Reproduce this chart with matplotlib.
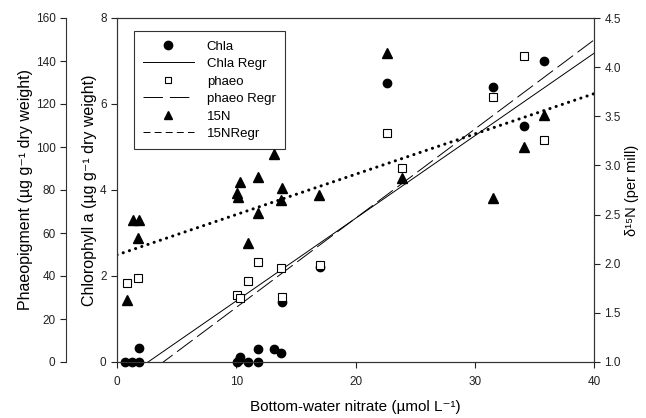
import matplotlib
matplotlib.use("Agg")
import matplotlib.pyplot as plt
from matplotlib.lines import Line2D
import numpy as np

plt.rcParams['font.family'] = ['Liberation Sans', 'DejaVu Sans']
plt.rcParams['mathtext.default'] = 'regular'
plt.rcParams['lines.scale_dashes'] = False

# === DATA ===
chla_x = [0.67, 1.26, 1.84, 1.84, 10.08, 10.2, 10.3, 11.0, 11.8, 11.8, 13.2, 13.75,
          13.86, 17.0, 22.66, 31.5, 34.1, 35.8]
chla_y = [0.0, 0.0, 0.0, 0.33, 0.0, 0.05, 0.12, 0.0, 0.0, 0.3, 0.3, 0.2,
          1.4, 2.22, 6.5, 6.39, 5.5, 7.0]

phaeo_x = [0.81, 1.79, 10.08, 10.3, 11.0, 11.8, 13.75, 13.86, 17.0,
           22.66, 23.9, 31.5, 34.1, 35.8]
phaeo_y = [36.9, 38.9, 31.2, 29.6, 37.7, 46.7, 43.6, 30.4, 45.1,
           106.4, 90.1, 123.1, 142.5, 103.3]

n15_x = [0.81, 1.3, 1.73, 1.87, 10.08, 10.17, 10.3, 11.0, 11.8, 11.8, 13.2, 13.75,
         13.86, 16.96, 22.66, 23.9, 31.5, 34.1, 35.8]
n15_y = [1.63, 2.44, 2.26, 2.44, 2.72, 2.68, 2.83, 2.21, 2.88, 2.52, 3.12, 2.65,
         2.77, 2.70, 4.14, 2.87, 2.67, 3.19, 3.51]

# regression coefficients (slope, intercept)
chla_fit = (0.192, -0.5)
phaeo_fit = (4.147, -16.1)
n15_fit = (0.041, 2.09)

xfit = np.array([0, 40])
sup_m1 = "\u207b\u00b9"

fig = plt.figure(figsize=(6.46, 4.18), dpi=100)
ax = fig.add_axes([117/646, 1 - 362/418, 477/646, 344/418])
ax_n = ax.twinx()
ax_p = ax.twinx()

# chlorophyll a (inner left)
ax.plot(chla_x, chla_y, 'o', color='black', ms=6, clip_on=False, zorder=3)
ax.plot(xfit, chla_fit[0]*xfit + chla_fit[1], '-', color='black', lw=0.7)
ax.set_xlim(0, 40)
ax.set_ylim(0, 8)
ax.set_xticks([0, 10, 20, 30, 40])
ax.set_yticks([0, 2, 4, 6, 8])
ax.set_xlabel("Bottom-water nitrate (\u00b5mol L" + sup_m1 + ")", fontsize=11, labelpad=9)
ax.set_ylabel("Chlorophyll a (\u00b5g g" + sup_m1 + " dry weight)", fontsize=11.5, labelpad=2)

# d15N (right)
ax_n.plot(n15_x, n15_y, '^', color='black', ms=6.5, clip_on=False, zorder=3)
ax_n.plot(xfit, n15_fit[0]*xfit + n15_fit[1], color='black', lw=2.2,
          linestyle=(0, (0.1, 4.6)), dash_capstyle='round')
ax_n.set_ylim(1.0, 4.5)
ax_n.set_yticks([1.0, 1.5, 2.0, 2.5, 3.0, 3.5, 4.0, 4.5])
ax_n.set_yticklabels(["1.0", "1.5", "2.0", "2.5", "3.0", "3.5", "4.0", "4.5"])
ax_n.set_ylabel("\u03b4\u00b9\u2075N (per mill)", fontsize=10.5, labelpad=3)

# phaeopigment (outer left)
ax_p.plot(phaeo_x, phaeo_y, 's', mfc='white', mec='black', mew=0.8, ms=6, clip_on=False, zorder=3)
ax_p.plot(xfit, phaeo_fit[0]*xfit + phaeo_fit[1], color='black', lw=0.7,
          linestyle=(0, (14, 4)))
ax_p.set_ylim(0, 160)
ax_p.set_yticks(range(0, 161, 20))
ax_p.yaxis.set_label_position('left')
ax_p.yaxis.set_ticks_position('left')
ax_p.spines['left'].set_position(('outward', 51*72/100))
ax_p.spines['right'].set_visible(False)
ax_p.spines['top'].set_visible(False)
ax_p.spines['bottom'].set_visible(False)
ax_p.set_ylabel("Phaeopigment (\u00b5g g" + sup_m1 + " dry weight)", fontsize=11.5, labelpad=2)

for a in (ax, ax_n, ax_p):
    a.tick_params(direction='out', length=4, width=0.8, labelsize=8.5, colors='#222222')
    for s in a.spines.values():
        s.set_linewidth(0.8)
        s.set_color('#333333')
ax.tick_params(axis='x', pad=6)

handles = [
    Line2D([], [], marker='o', color='black', ls='none', ms=6),
    Line2D([], [], color='black', lw=0.7),
    Line2D([], [], marker='s', mfc='white', mec='black', mew=0.8, ls='none', ms=5),
    Line2D([], [], color='black', lw=0.7, linestyle=(0, (14, 5))),
    Line2D([], [], marker='^', color='black', ls='none', ms=6),
    Line2D([], [], color='black', lw=0.7, linestyle=(0, (5, 3))),
]
labels = ["Chla", "Chla Regr", "phaeo", "phaeo Regr", "15N", "15NRegr"]
leg = ax_p.legend(handles, labels, loc='upper left', bbox_to_anchor=(0.036, 0.962),
                  borderaxespad=0, fontsize=9.5, frameon=True, fancybox=False,
                  edgecolor='black', handlelength=3.8, labelspacing=0.4,
                  borderpad=0.7, handletextpad=1.0)
leg.get_frame().set_linewidth(0.8)

fig.savefig("out.png", dpi=100)
